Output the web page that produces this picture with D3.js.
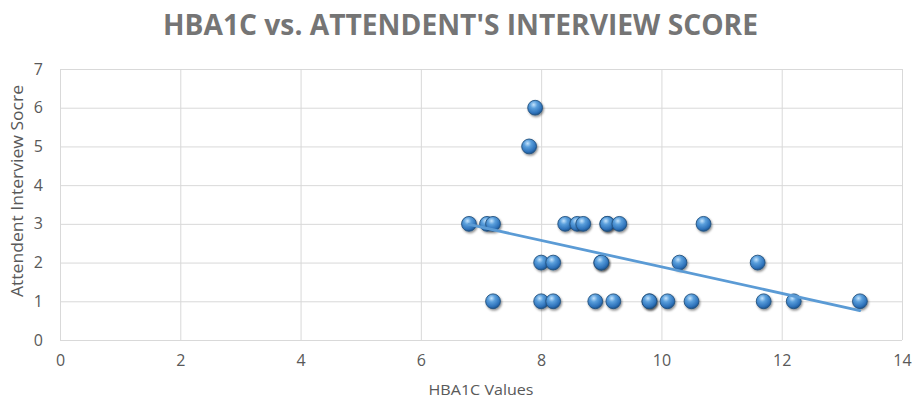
<!DOCTYPE html>
<html><head><meta charset="utf-8">
<script src="https://cdn.jsdelivr.net/npm/d3@7"></script>
<style>body{margin:0;background:#fff}svg{display:block}</style>
</head><body><div id="chart"></div>
<script>
const title = "HBA1C vs. ATTENDENT'S INTERVIEW SCORE";
const xLabel = "HBA1C Values";
const yLabel = "Attendent Interview Socre";
const hba1c = [6.8,7.1,7.2,8.4,8.6,8.7,9.1,9.1,9.3,10.7, 8.0,8.2,9.0,9.0,10.3,11.6, 7.2,8.0,8.2,8.9,9.2,9.8,9.8,10.1,10.5,11.7,12.2,13.3, 7.8,7.9];
const score = [3,3,3,3,3,3,3,3,3,3, 2,2,2,2,2,2, 1,1,1,1,1,1,1,1,1,1,1,1, 5,6];
const xTicks = [0,2,4,6,8,10,12,14];
const yTicks = [0,1,2,3,4,5,6,7];

const W=914,H=401;
const m={l:60,r:12,t:69,b:61};
const svg=d3.select("#chart").append("svg").attr("width",W).attr("height",H);
const x=d3.scaleLinear().domain([0,14]).range([m.l,W-m.r]);
const y=d3.scaleLinear().domain([0,7]).range([H-m.b,m.t]);
const font="Open Sans, Liberation Sans, sans-serif";

const defs=svg.append("defs");
const g=defs.append("radialGradient").attr("id","ball").attr("cx","40%").attr("cy","30%").attr("r","70%");
g.append("stop").attr("offset","0%").attr("stop-color","#c4e3fc");
g.append("stop").attr("offset","35%").attr("stop-color","#5a9fdc");
g.append("stop").attr("offset","80%").attr("stop-color","#2e72ba");
g.append("stop").attr("offset","100%").attr("stop-color","#1d5590");
const f=defs.append("filter").attr("id","sh").attr("x","-50%").attr("y","-50%").attr("width","200%").attr("height","200%");
f.append("feDropShadow").attr("dx",1).attr("dy",1.5).attr("stdDeviation",1.2).attr("flood-color","#000").attr("flood-opacity",0.45);

// gridlines
svg.append("g").selectAll("line").data(yTicks).join("line")
  .attr("x1",x(0)).attr("x2",x(14)).attr("y1",d=>y(d)+0.5).attr("y2",d=>y(d)+0.5)
  .attr("stroke","#d9d9d9").attr("stroke-width",1);
svg.append("g").selectAll("line").data(xTicks).join("line")
  .attr("y1",y(0)).attr("y2",y(7)).attr("x1",d=>x(d)+0.5).attr("x2",d=>x(d)+0.5)
  .attr("stroke","#d9d9d9").attr("stroke-width",1);

// axes
const xa=svg.append("g").attr("transform",`translate(0,${y(0)})`)
  .call(d3.axisBottom(x).tickValues(xTicks).tickFormat(d3.format("d")).tickSize(0).tickPadding(15));
const ya=svg.append("g").attr("transform",`translate(${x(0)},0)`)
  .call(d3.axisLeft(y).tickValues(yTicks).tickFormat(d3.format("d")).tickSize(0).tickPadding(17));
[xa,ya].forEach(a=>{a.select(".domain").remove(); a.attr("font-size",null).attr("font-family",null);
  a.selectAll("text").attr("fill","#595959").style("font-family",font).style("font-size","16px");});

// trendline (least squares from data)
const n=hba1c.length, mx=d3.mean(hba1c), my=d3.mean(score);
let sxy=0,sxx=0; for(let i=0;i<n;i++){sxy+=(hba1c[i]-mx)*(score[i]-my);sxx+=(hba1c[i]-mx)**2;}
const slope=sxy/sxx, icpt=my-slope*mx;
const x0=d3.min(hba1c), x1=d3.max(hba1c);

// points
svg.append("g").selectAll("circle").data(hba1c.map((v,i)=>[v,score[i]])).join("circle")
  .attr("cx",d=>x(d[0])).attr("cy",d=>y(d[1])).attr("r",7.4)
  .attr("fill","url(#ball)").attr("stroke","#24527f").attr("stroke-width",0.9).attr("filter","url(#sh)");

svg.append("line").attr("x1",x(x0)).attr("y1",y(slope*x0+icpt)).attr("x2",x(x1)).attr("y2",y(slope*x1+icpt))
  .attr("stroke","#5b9bd5").attr("stroke-width",2.8).attr("stroke-linecap","round");

// titles
svg.append("text").attr("x",460.5).attr("y",35).attr("text-anchor","middle")
  .attr("fill","#757575").style("font-family",font).style("font-weight","bold").style("font-size","29px")
  .attr("textLength",595).attr("lengthAdjust","spacingAndGlyphs").text(title);
svg.append("text").attr("x",481).attr("y",395).attr("text-anchor","middle")
  .attr("fill","#595959").style("font-family",font).style("font-size","15px")
  .attr("textLength",105).attr("lengthAdjust","spacingAndGlyphs").text(xLabel);
svg.append("text").attr("transform",`translate(23,191) rotate(-90)`).attr("text-anchor","middle")
  .attr("fill","#595959").style("font-family",font).style("font-size","16px")
  .attr("textLength",212).attr("lengthAdjust","spacingAndGlyphs").text(yLabel);
</script></body></html>
